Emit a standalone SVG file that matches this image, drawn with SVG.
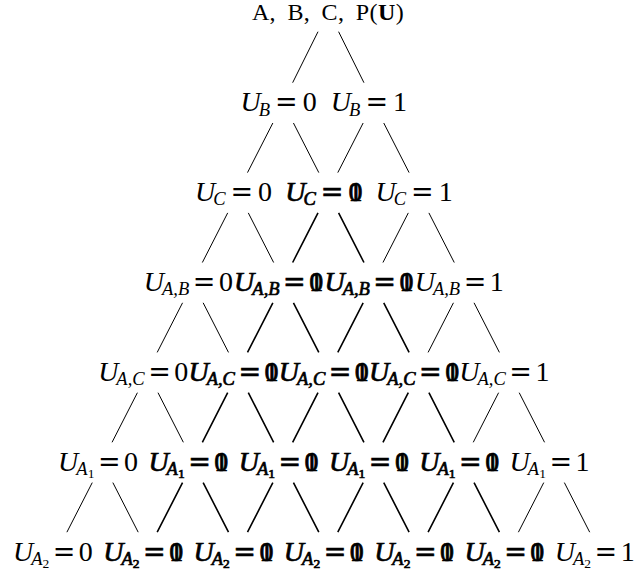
<svg xmlns="http://www.w3.org/2000/svg" width="644" height="573" viewBox="0 0 644 573">
<style>
text{font-family:"Liberation Serif","DejaVu Serif",serif;fill:#000}
.r{font-size:24px;word-spacing:5px;letter-spacing:0.4px}
.t{font-size:28px;text-anchor:middle}
.i{font-style:italic}
.s{font-size:18.5px}
.ss{font-size:13.5px}
.q{font-family:"DejaVu Serif",serif;font-size:27px}
.b{stroke:#000;stroke-width:0.7}
.e{stroke:#000;stroke-width:1;fill:none}
.eb{stroke:#000;stroke-width:1.6;fill:none}
</style>
<rect width="644" height="573" fill="#fff"/>
<g id="connectors">
<path class="e" d="M318,31.7L292.65,82.7M338.6,31.7L363.95,82.7
M272.85,123L247.5,172.6M293.45,123L318.8,172.6M363.15,123L337.8,172.6M383.75,123L409.1,172.6
M227.7,212.9L202.35,262.5M248.3,212.9L273.65,262.5M408.3,212.9L382.95,262.5M428.9,212.9L454.25,262.5
M182.55,302.8L157.2,352.4M203.15,302.8L228.5,352.4M453.45,302.8L428.1,352.4M474.05,302.8L499.4,352.4
M137.4,392.7L112.05,442.3M158,392.7L183.35,442.3M498.6,392.7L473.25,442.3M519.2,392.7L544.55,442.3
M92.25,482.6L66.9,532.2M112.85,482.6L138.2,532.2M543.75,482.6L518.4,532.2M564.35,482.6L589.7,532.2"/>
<path class="eb" d="M318,212.9L292.65,262.5M338.6,212.9L363.95,262.5
M272.85,302.8L247.5,352.4M293.45,302.8L318.8,352.4M363.15,302.8L337.8,352.4M383.75,302.8L409.1,352.4
M227.7,392.7L202.35,442.3M248.3,392.7L273.65,442.3M318,392.7L292.65,442.3M338.6,392.7L363.95,442.3M408.3,392.7L382.95,442.3M428.9,392.7L454.25,442.3
M182.55,482.6L157.2,532.2M203.15,482.6L228.5,532.2M272.85,482.6L247.5,532.2M293.45,482.6L318.8,532.2M363.15,482.6L337.8,532.2M383.75,482.6L409.1,532.2M453.45,482.6L428.1,532.2M474.05,482.6L499.4,532.2"/>
</g>
<g id="root"><text class="r" x="328" y="19.5" text-anchor="middle">A, B, C, P(<tspan font-weight="bold">U</tspan>)</text></g>
<g id="n1-0"><text class="t" x="278.65" y="111"><tspan class="i">U</tspan><tspan class="i s" dx="-2" dy="4.5">B</tspan><tspan class="q" dx="5" dy="-4.5">=</tspan><tspan dx="5">0</tspan></text></g>
<g id="n1-1"><text class="t" x="368.95" y="111"><tspan class="i">U</tspan><tspan class="i s" dx="-2" dy="4.5">B</tspan><tspan class="q" dx="5" dy="-4.5">=</tspan><tspan dx="5">1</tspan></text></g>
<g id="n2-0"><text class="t" x="233.5" y="200.9"><tspan class="i">U</tspan><tspan class="i s" dx="-2" dy="4.5">C</tspan><tspan class="q" dx="5" dy="-4.5">=</tspan><tspan dx="5">0</tspan></text></g>
<g id="n2-1"><text class="t b" x="323.8" y="200.9"><tspan class="i">U</tspan><tspan class="i s" dx="-2" dy="4.5">C</tspan><tspan class="q" dx="5" dy="-4.5">=</tspan><tspan dx="5">0</tspan><tspan dx="-14">1</tspan></text></g>
<g id="n2-2"><text class="t" x="414.1" y="200.9"><tspan class="i">U</tspan><tspan class="i s" dx="-2" dy="4.5">C</tspan><tspan class="q" dx="5" dy="-4.5">=</tspan><tspan dx="5">1</tspan></text></g>
<g id="n3-0"><text class="t" x="188.35" y="290.8"><tspan class="i">U</tspan><tspan class="i s" dx="-2" dy="4.5">A,B</tspan><tspan class="q" dx="3.5" dy="-4.5">=</tspan><tspan dx="3.5">0</tspan></text></g>
<g id="n3-1"><text class="t b" x="278.65" y="290.8"><tspan class="i">U</tspan><tspan class="i s" dx="-2" dy="4.5">A,B</tspan><tspan class="q" dx="3.5" dy="-4.5">=</tspan><tspan dx="3.5">0</tspan><tspan dx="-14">1</tspan></text></g>
<g id="n3-2"><text class="t b" x="368.95" y="290.8"><tspan class="i">U</tspan><tspan class="i s" dx="-2" dy="4.5">A,B</tspan><tspan class="q" dx="3.5" dy="-4.5">=</tspan><tspan dx="3.5">0</tspan><tspan dx="-14">1</tspan></text></g>
<g id="n3-3"><text class="t" x="459.25" y="290.8"><tspan class="i">U</tspan><tspan class="i s" dx="-2" dy="4.5">A,B</tspan><tspan class="q" dx="3.5" dy="-4.5">=</tspan><tspan dx="3.5">1</tspan></text></g>
<g id="n4-0"><text class="t" x="143.2" y="380.7"><tspan class="i">U</tspan><tspan class="i s" dx="-2" dy="4.5">A,C</tspan><tspan class="q" dx="3.5" dy="-4.5">=</tspan><tspan dx="3.5">0</tspan></text></g>
<g id="n4-1"><text class="t b" x="233.5" y="380.7"><tspan class="i">U</tspan><tspan class="i s" dx="-2" dy="4.5">A,C</tspan><tspan class="q" dx="3.5" dy="-4.5">=</tspan><tspan dx="3.5">0</tspan><tspan dx="-14">1</tspan></text></g>
<g id="n4-2"><text class="t b" x="323.8" y="380.7"><tspan class="i">U</tspan><tspan class="i s" dx="-2" dy="4.5">A,C</tspan><tspan class="q" dx="3.5" dy="-4.5">=</tspan><tspan dx="3.5">0</tspan><tspan dx="-14">1</tspan></text></g>
<g id="n4-3"><text class="t b" x="414.1" y="380.7"><tspan class="i">U</tspan><tspan class="i s" dx="-2" dy="4.5">A,C</tspan><tspan class="q" dx="3.5" dy="-4.5">=</tspan><tspan dx="3.5">0</tspan><tspan dx="-14">1</tspan></text></g>
<g id="n4-4"><text class="t" x="504.4" y="380.7"><tspan class="i">U</tspan><tspan class="i s" dx="-2" dy="4.5">A,C</tspan><tspan class="q" dx="3.5" dy="-4.5">=</tspan><tspan dx="3.5">1</tspan></text></g>
<g id="n5-0"><text class="t" x="98.05" y="470.6"><tspan class="i">U</tspan><tspan class="i s" dx="-2" dy="4.5">A</tspan><tspan class="ss" dy="3">1</tspan><tspan class="q" dx="3.5" dy="-7.5">=</tspan><tspan dx="3.5">0</tspan></text></g>
<g id="n5-1"><text class="t b" x="188.35" y="470.6"><tspan class="i">U</tspan><tspan class="i s" dx="-2" dy="4.5">A</tspan><tspan class="ss" dy="3">1</tspan><tspan class="q" dx="3.5" dy="-7.5">=</tspan><tspan dx="3.5">0</tspan><tspan dx="-14">1</tspan></text></g>
<g id="n5-2"><text class="t b" x="278.65" y="470.6"><tspan class="i">U</tspan><tspan class="i s" dx="-2" dy="4.5">A</tspan><tspan class="ss" dy="3">1</tspan><tspan class="q" dx="3.5" dy="-7.5">=</tspan><tspan dx="3.5">0</tspan><tspan dx="-14">1</tspan></text></g>
<g id="n5-3"><text class="t b" x="368.95" y="470.6"><tspan class="i">U</tspan><tspan class="i s" dx="-2" dy="4.5">A</tspan><tspan class="ss" dy="3">1</tspan><tspan class="q" dx="3.5" dy="-7.5">=</tspan><tspan dx="3.5">0</tspan><tspan dx="-14">1</tspan></text></g>
<g id="n5-4"><text class="t b" x="459.25" y="470.6"><tspan class="i">U</tspan><tspan class="i s" dx="-2" dy="4.5">A</tspan><tspan class="ss" dy="3">1</tspan><tspan class="q" dx="3.5" dy="-7.5">=</tspan><tspan dx="3.5">0</tspan><tspan dx="-14">1</tspan></text></g>
<g id="n5-5"><text class="t" x="549.55" y="470.6"><tspan class="i">U</tspan><tspan class="i s" dx="-2" dy="4.5">A</tspan><tspan class="ss" dy="3">1</tspan><tspan class="q" dx="3.5" dy="-7.5">=</tspan><tspan dx="3.5">1</tspan></text></g>
<g id="n6-0"><text class="t" x="52.9" y="560.5"><tspan class="i">U</tspan><tspan class="i s" dx="-2" dy="4.5">A</tspan><tspan class="ss" dy="3">2</tspan><tspan class="q" dx="3.5" dy="-7.5">=</tspan><tspan dx="3.5">0</tspan></text></g>
<g id="n6-1"><text class="t b" x="143.2" y="560.5"><tspan class="i">U</tspan><tspan class="i s" dx="-2" dy="4.5">A</tspan><tspan class="ss" dy="3">2</tspan><tspan class="q" dx="3.5" dy="-7.5">=</tspan><tspan dx="3.5">0</tspan><tspan dx="-14">1</tspan></text></g>
<g id="n6-2"><text class="t b" x="233.5" y="560.5"><tspan class="i">U</tspan><tspan class="i s" dx="-2" dy="4.5">A</tspan><tspan class="ss" dy="3">2</tspan><tspan class="q" dx="3.5" dy="-7.5">=</tspan><tspan dx="3.5">0</tspan><tspan dx="-14">1</tspan></text></g>
<g id="n6-3"><text class="t b" x="323.8" y="560.5"><tspan class="i">U</tspan><tspan class="i s" dx="-2" dy="4.5">A</tspan><tspan class="ss" dy="3">2</tspan><tspan class="q" dx="3.5" dy="-7.5">=</tspan><tspan dx="3.5">0</tspan><tspan dx="-14">1</tspan></text></g>
<g id="n6-4"><text class="t b" x="414.1" y="560.5"><tspan class="i">U</tspan><tspan class="i s" dx="-2" dy="4.5">A</tspan><tspan class="ss" dy="3">2</tspan><tspan class="q" dx="3.5" dy="-7.5">=</tspan><tspan dx="3.5">0</tspan><tspan dx="-14">1</tspan></text></g>
<g id="n6-5"><text class="t b" x="504.4" y="560.5"><tspan class="i">U</tspan><tspan class="i s" dx="-2" dy="4.5">A</tspan><tspan class="ss" dy="3">2</tspan><tspan class="q" dx="3.5" dy="-7.5">=</tspan><tspan dx="3.5">0</tspan><tspan dx="-14">1</tspan></text></g>
<g id="n6-6"><text class="t" x="594.7" y="560.5"><tspan class="i">U</tspan><tspan class="i s" dx="-2" dy="4.5">A</tspan><tspan class="ss" dy="3">2</tspan><tspan class="q" dx="3.5" dy="-7.5">=</tspan><tspan dx="3.5">1</tspan></text></g>
</svg>
